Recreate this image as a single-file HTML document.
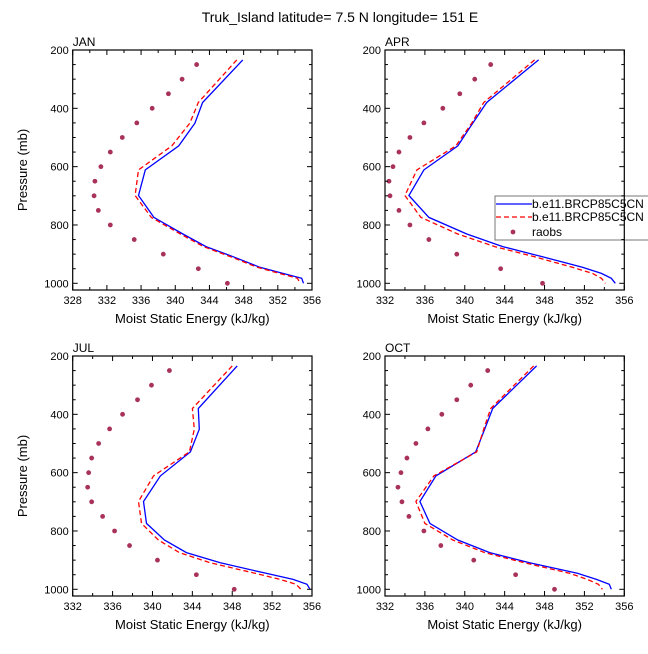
<!DOCTYPE html>
<html><head><meta charset="utf-8"><style>
body{margin:0;background:#fff;}
svg text{font-family:"Liberation Sans",sans-serif;fill:#000;}
</style></head><body>
<svg id="chart" width="648" height="649" xmlns="http://www.w3.org/2000/svg">
<text x="340" y="22" font-size="14" text-anchor="middle">Truk_Island  latitude= 7.5 N longitude= 151 E</text>
</svg>
<script>
const levels=[234,380,451,529,611,699,774,831,874,909,945,966,983,1000];
const obsLevels=[250,300,350,400,450,500,550,600,650,700,750,800,850,900,950,1000];
const panelNames=["JAN","APR","JUL","OCT"];
const xMins=[328,332,332,332];
const xTicksJan=[328,332,336,340,344,348,352,356];
const xTicksOther=[332,336,340,344,348,352,356];
const yTicks=[200,400,600,800,1000];
const janBlue=[347.9,343.2,342.3,340.4,336.5,335.7,337.5,340.9,343.6,346.8,349.9,352.6,354.8,355.0];
const janRed=[347.2,342.7,341.7,339.6,335.7,335.3,337.2,340.6,343.3,346.5,349.6,352.2,354.3,354.6];
const janObs=[342.5,340.8,339.2,337.3,335.5,333.8,332.4,331.3,330.6,330.5,331.0,332.4,335.2,338.6,342.7,346.1];
const aprBlue=[347.4,342.2,340.8,339.3,335.9,334.4,336.4,340.2,343.8,347.8,351.8,353.7,354.7,355.1];
const aprRed=[347.0,341.9,340.7,339.1,335.2,334.0,335.6,339.3,343.0,347.0,350.8,352.8,353.7,354.1];
const aprObs=[342.6,341.0,339.5,337.8,335.9,334.5,333.4,332.8,332.4,332.5,333.4,334.5,336.4,339.2,343.6,347.8];
const julBlue=[348.5,344.6,344.7,343.8,340.8,339.1,339.4,341.2,343.4,346.8,351.4,354.1,355.5,355.8];
const julRed=[348.0,344.0,344.2,343.7,340.1,338.6,338.9,340.6,342.7,345.8,350.3,352.8,354.4,354.9];
const julObs=[341.7,339.9,338.5,337.0,335.7,334.6,333.9,333.6,333.5,333.9,335.0,336.2,337.7,340.5,344.4,348.2];
const octBlue=[347.2,342.8,342.0,341.1,337.1,335.5,336.5,339.3,342.5,346.5,351.3,353.2,354.5,354.7];
const octRed=[346.9,342.6,341.9,341.2,336.9,335.1,336.0,338.8,342.0,346.0,350.5,352.3,353.4,353.8];
const octObs=[342.3,340.6,339.2,337.7,336.3,335.1,334.2,333.6,333.3,333.7,334.4,335.9,337.6,340.9,345.1,349.0];
const blues=[janBlue,aprBlue,julBlue,octBlue];
const reds=[janRed,aprRed,julRed,octRed];
const obss=[janObs,aprObs,julObs,octObs];
const lefts=[72.7,385,72.7,385], tops=[50,50,356,356];
const W=239.3,H=240,XMAX=356,PMIN=200,PSC=233.3/800;
const NS="http://www.w3.org/2000/svg";
const svg=document.getElementById('chart');
function mk(t,a,p){const e=document.createElementNS(NS,t);for(const k in a)e.setAttribute(k,a[k]);(p||svg).appendChild(e);return e;}
for(let i=0;i<4;i++){
  const L=lefts[i],T=tops[i],xmin=xMins[i];
  const xs=v=>L+(v-xmin)/(XMAX-xmin)*W;
  const ys=p=>T+(p-PMIN)*PSC;
  const g=mk('g',{});
  
  
  const lab=mk('text',{x:L,y:T-4,'font-size':12},g);lab.textContent=panelNames[i];
  
  
  // series
  const pts=a=>a.map((v,k)=>xs(v).toFixed(1)+','+ys(levels[k]).toFixed(1)).join(' ');
  const bl=mk('polyline',{points:pts(blues[i]),fill:'none',stroke:'#0000ff','stroke-width':1.3},g);
  
  
  const rl=mk('polyline',{points:pts(reds[i]),fill:'none',stroke:'#ff0000','stroke-width':1.3,'stroke-dasharray':'5,3'},g);
  
  
  obss[i].forEach((v,k)=>{const c=mk('circle',{cx:xs(v),cy:ys(obsLevels[k]),r:2.4,fill:'#a83258'},g);
    
    });
  if(i===1){
    const lg=mk('g',{},g);
    
    
    mk('rect',{x:495,y:196,width:160,height:44,fill:'#fff',stroke:'#777','stroke-width':1},lg);
    mk('line',{x1:496,y1:204,x2:532,y2:204,stroke:'#0000ff','stroke-width':1.3},lg);
    mk('line',{x1:496,y1:217,x2:532,y2:217,stroke:'#ff0000','stroke-width':1.3,'stroke-dasharray':'5,3'},lg);
    mk('circle',{cx:513,cy:232,r:2.4,fill:'#a83258'},lg);
    [['b.e11.BRCP85C5CN',208],['b.e11.BRCP85C5CN',221],['raobs',236]].forEach(d=>{
      const t=mk('text',{x:532,y:d[1],'font-size':12},lg);t.textContent=d[0];
      
      });
  }
  // frame and ticks
  mk('rect',{x:L,y:T,width:W,height:H,fill:'none',stroke:'#000','stroke-width':1.2},g);
  const xt=xmin===328?xTicksJan:xTicksOther;
  for(let v=xmin;v<=XMAX;v+=2){const x=xs(v),mj=(v-xmin)%4===0,len=mj?5:3;
    mk('line',{x1:x,y1:T+H,x2:x,y2:T+H-len,stroke:'#000'},g);
    mk('line',{x1:x,y1:T,x2:x,y2:T+len,stroke:'#000'},g);}
  xt.forEach(v=>{const t=mk('text',{x:xs(v),y:T+H+14,'font-size':11,'text-anchor':'middle'},g);t.textContent=v;
    
    });
  for(let p=200;p<=1000;p+=50){const y=ys(p),mj=p%200===0,len=mj?5:3;
    mk('line',{x1:L,y1:y,x2:L+len,y2:y,stroke:'#000'},g);
    mk('line',{x1:L+W,y1:y,x2:L+W-len,y2:y,stroke:'#000'},g);}
  yTicks.forEach(p=>{const t=mk('text',{x:L-4,y:ys(p)+4,'font-size':11,'text-anchor':'end'},g);t.textContent=p;
    
    });
  const xtT=mk('text',{x:L+W/2,y:T+H+33,'font-size':13,'text-anchor':'middle'},g);xtT.textContent='Moist Static Energy (kJ/kg)';
  
  
  if(i%2===0){const yt=mk('text',{x:0,y:0,'font-size':13,'text-anchor':'middle',transform:`translate(27,${T+H/2}) rotate(-90)`},g);yt.textContent='Pressure (mb)';
    
    }
}
</script>
</body></html>
